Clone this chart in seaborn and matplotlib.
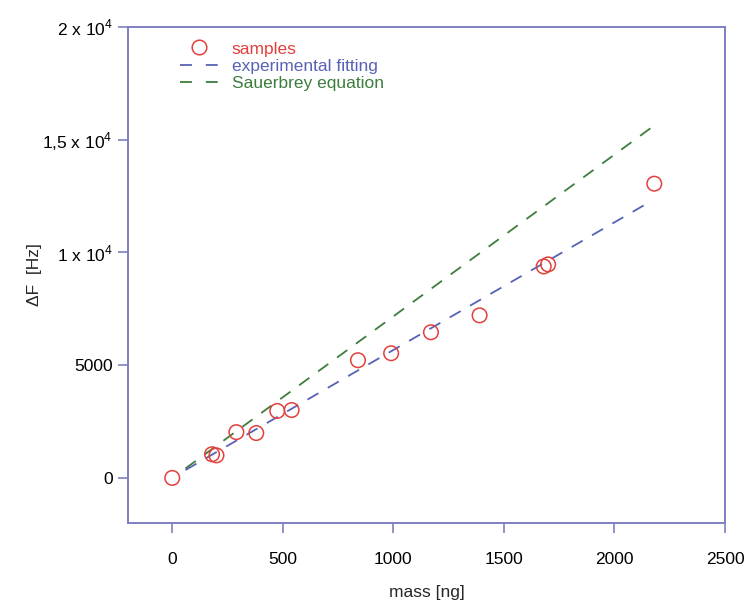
import matplotlib
matplotlib.use("Agg")
import matplotlib.pyplot as plt
import seaborn as sns
import pandas as pd
from matplotlib.lines import Line2D

# data
mass = [0, 180, 200, 290, 380, 475, 540, 840, 990, 1170, 1390, 1680, 1700, 2180]
delta_f = [0, 1050, 1000, 2030, 1990, 2970, 3010, 5220, 5530, 6460, 7210, 9380, 9470, 13050]
fit_x = [60, 2170]
fit_exp = [350, 12300]
fit_sauer = [420, 15560]

xticks = [0, 500, 1000, 1500, 2000, 2500]
xticklabels = ["0", "500", "1000", "1500", "2000", "2500"]
yticks = [0, 5000, 10000, 15000, 20000]
yticklabels = ["0", "5000", r"1 x 10$^4$", r"1,5 x 10$^4$", r"2 x 10$^4$"]

red = "#e2403c"
blue = "#5862b4"
green = "#3d7d3d"
axcol = "#7d7fc0"

sns.set_theme(style="white")
plt.rcParams["font.family"] = ["Liberation Sans", "DejaVu Sans"]
plt.rcParams["mathtext.fontset"] = "custom"
plt.rcParams["mathtext.rm"] = "Liberation Sans"

fig = plt.figure(figsize=(7.49, 6.08), dpi=100)
ax = fig.add_axes([0.1709, 0.1398, 0.968 - 0.1709, 0.9556 - 0.1398])

df = pd.DataFrame({"mass": mass, "df": delta_f})
fit = pd.DataFrame({"x": fit_x, "exp": fit_exp, "sau": fit_sauer})

sns.lineplot(data=fit, x="x", y="sau", ax=ax, color=green, linewidth=1.3,
             linestyle=(0, (7, 6)))
sns.lineplot(data=fit, x="x", y="exp", ax=ax, color=blue, linewidth=1.3,
             linestyle=(0, (7, 6)))
sns.scatterplot(data=df, x="mass", y="df", ax=ax, s=110, facecolor="none",
                edgecolor=red, linewidth=1.1, zorder=5)

ax.set_xlim(-200, 2500)
ax.set_ylim(-2000, 20000)
ax.set_xticks(xticks)
ax.set_xticklabels(xticklabels)
ax.set_yticks(yticks)
ax.set_yticklabels(yticklabels)
ax.tick_params(axis="both", direction="out", length=7, width=1.2, color=axcol,
               labelsize=12.5, labelcolor="black", bottom=True, left=True)
ax.tick_params(axis="x", pad=14)
ax.tick_params(axis="y", pad=4)
for sp in ax.spines.values():
    sp.set_color(axcol)
    sp.set_linewidth(1.4)

ax.set_xlabel("mass [ng]", fontsize=12.5, labelpad=13)
ax.set_ylabel("ΔF  [Hz]", fontsize=12.5, labelpad=0)

leg_dash = (0, (6.6, 7.7))
handles = [
    Line2D([], [], linestyle="none", marker="o", markersize=10.5,
           markerfacecolor="none", markeredgecolor=red, markeredgewidth=1.1),
    Line2D([], [], color=blue, linewidth=1.3, linestyle=leg_dash),
    Line2D([], [], color=green, linewidth=1.3, linestyle=leg_dash),
]
labels = ["samples", "experimental fitting", "Sauerbrey equation"]
leg = ax.legend(handles, labels, loc="upper left", bbox_to_anchor=(0.075, 0.985),
                frameon=False, fontsize=12.5, handlelength=2.2, handletextpad=0.8,
                labelspacing=0.12, borderaxespad=0)
for t, c in zip(leg.get_texts(), [red, blue, green]):
    t.set_color(c)

fig.savefig("out.png", dpi=100)
